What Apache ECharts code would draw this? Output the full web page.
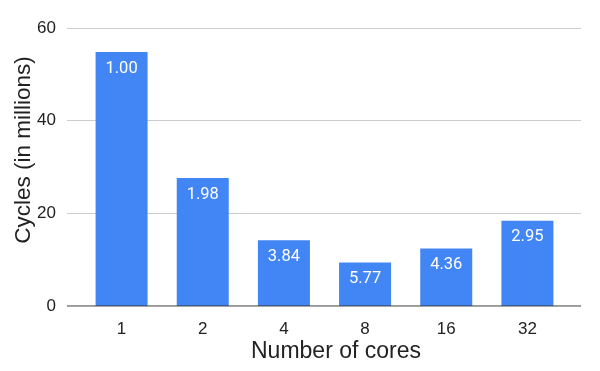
<!DOCTYPE html>
<html>
<head>
<meta charset="utf-8">
<script src="https://cdn.jsdelivr.net/npm/echarts@6/dist/echarts.min.js"></script>
<style>
	html, body { margin: 0; padding: 0; background: #fff; }
	#chart { width: 600px; height: 371px; }
</style>
</head>
<body>
<div id="chart"></div>
<script>
var cores = ["1", "2", "4", "8", "16", "32"];
var cycles = [54.8, 27.6, 14.2, 9.4, 12.4, 18.4];
var speedup = ["1.00", "1.98", "3.84", "5.77", "4.36", "2.95"];

var arialFont = "'Liberation Sans', Arial, sans-serif";
var myChart = echarts.init(document.getElementById("chart"));

var option = {
	animation: false,
	textStyle: { fontFamily: arialFont },
	grid: [
		// grid for gridlines + y labels (wider, like google charts)
		{ left: 67, right: 19, top: 28, bottom: 65 },
		// grid for the bars
		{ left: 81, right: 32, top: 28, bottom: 65 }
	],
	xAxis: [
		{
			gridIndex: 0, type: "value", min: 0, max: 1,
			axisLine: { show: false }, axisTick: { show: false },
			axisLabel: { show: false }, splitLine: { show: false }
		},
		{
			gridIndex: 1, type: "category", data: cores,
			axisLine: { show: false }, axisTick: { show: false },
			axisLabel: { color: "#222", fontSize: 17, margin: 15, fontFamily: arialFont }
		}
	],
	yAxis: [
		{
			gridIndex: 0, type: "value", min: 0, max: 60, interval: 20,
			axisLine: { show: false }, axisTick: { show: false },
			axisLabel: { color: "#222", fontSize: 17, margin: 11, fontFamily: arialFont },
			splitLine: { lineStyle: { color: "#ccc", width: 1 } }
		},
		{
			gridIndex: 1, type: "value", min: 0, max: 60, interval: 20,
			axisLine: { show: false }, axisTick: { show: false },
			axisLabel: { show: false }, splitLine: { show: false }
		}
	],
	series: [
		{
			type: "bar",
			xAxisIndex: 1, yAxisIndex: 1,
			data: cycles,
			barWidth: 52,
			itemStyle: { color: "#4285F4" },
			label: {
				show: true,
				position: "insideTop",
				distance: 8,
				color: "#fff",
				fontSize: 16.5,
				fontFamily: "Roboto, sans-serif",
				formatter: function (p) { return speedup[p.dataIndex]; }
			},
			z: 3
		},
		{
			// baseline
			type: "line",
			xAxisIndex: 0, yAxisIndex: 0,
			data: [[0, 0], [1, 0]],
			symbol: "none",
			lineStyle: { color: "#333", width: 1 },
			z: 4
		}
	],
	graphic: [
		{
			type: "text", x: 336, y: 352,
			style: { text: "Number of cores", fontSize: 23, fill: "#222", align: "center", verticalAlign: "middle", fontFamily: arialFont }
		},
		{
			type: "text", x: 24, y: 150, rotation: Math.PI / 2,
			style: { text: "Cycles (in millions)", fontSize: 22.5, fill: "#222", align: "center", verticalAlign: "middle", fontFamily: arialFont }
		}
	]
};

myChart.setOption(option);
</script>
</body>
</html>
